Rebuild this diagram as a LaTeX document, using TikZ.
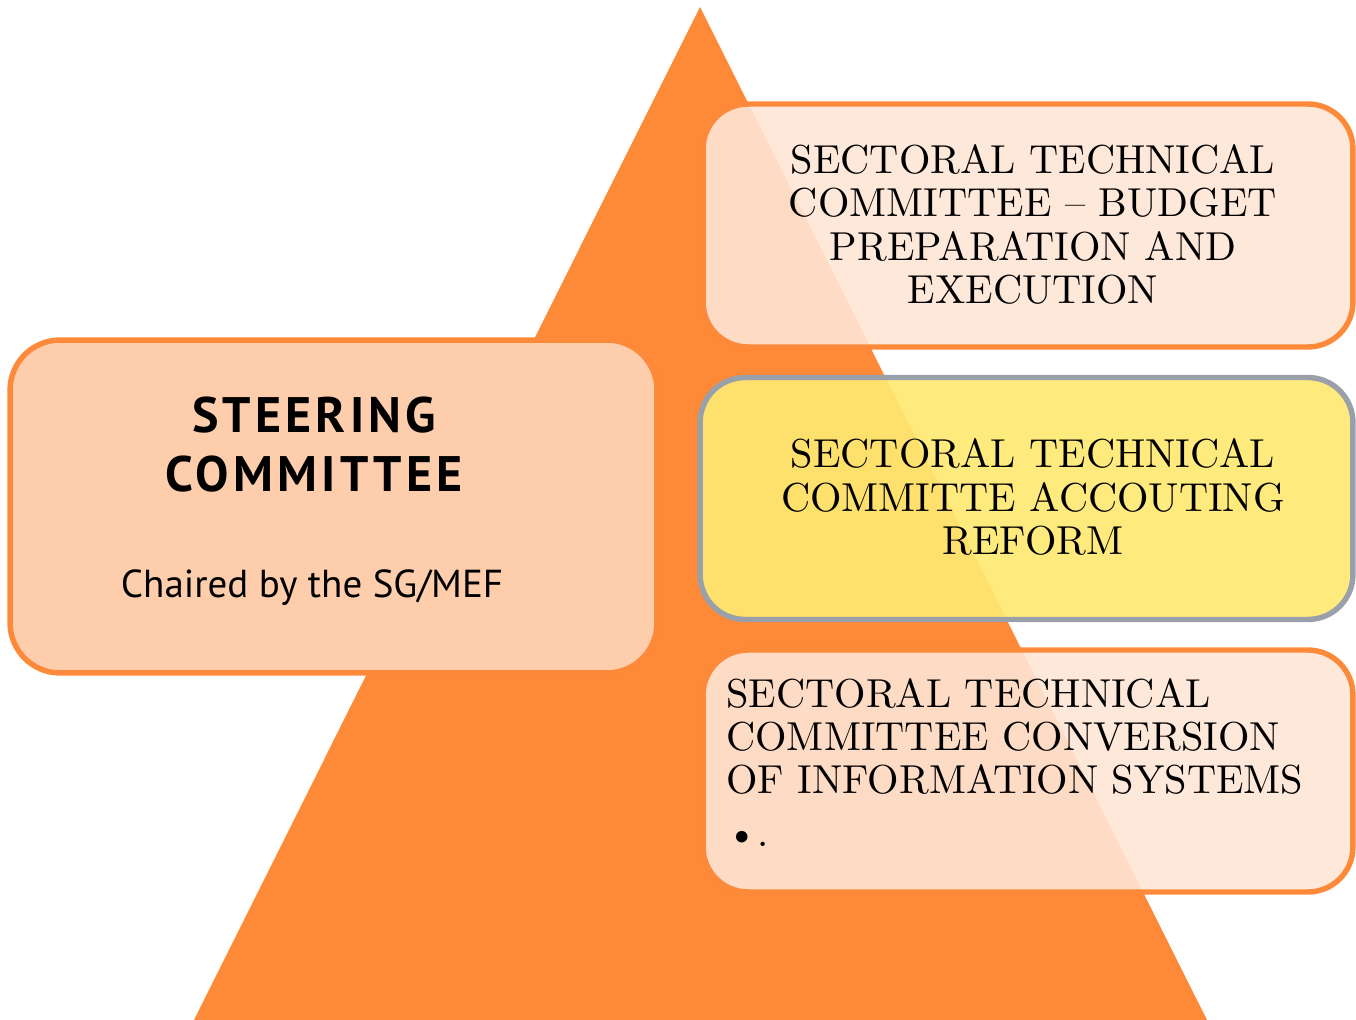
\documentclass[tikz,border=0pt]{standalone}
\usepackage{fontspec}
\newfontfamily\headfont{PT Sans}
\newfontfamily\headspaced{PT Sans}[LetterSpace=8.5]
\newfontfamily\sectserif{lmroman10-regular}[Extension=.otf, Ligatures=TeX]
\usetikzlibrary{positioning}
\definecolor{cTri}{RGB}{254,137,55}
\definecolor{cEdge}{RGB}{253,138,58}
\definecolor{cSteer}{RGB}{254,205,172}
\definecolor{cSect}{RGB}{254,229,213}
\definecolor{cAcc}{RGB}{255,232,114}
\definecolor{cGrey}{RGB}{154,160,170}

\begin{document}
\begin{tikzpicture}[x=0.02cm, y=-0.02cm,
    panel/.style={draw=cEdge, line width=3.1pt, rounded corners=0.9cm,
      minimum width=13cm, minimum height=4.86cm, inner sep=0pt},
    sectfont/.style={font=\sectserif\fontsize{23}{24.5}\selectfont, inner sep=0pt}]
  \useasboundingbox (0,0) rectangle (1356,1020);
  \fill[cTri] (700,7) -- (1207,1020) -- (194,1020) -- cycle;

  \node[panel, fill=cSteer, rounded corners=1cm, minimum width=12.94cm,
    minimum height=6.66cm] (steer) at (333.5,506.5) {};
  \node[font=\headspaced\bfseries\fontsize{28.4}{33.6}\selectfont, align=center,
    inner sep=0pt] (steertitle) at (314,445) {STEERING\\COMMITTEE};
  \node[font=\headfont\fontsize{22.2}{26}\selectfont, anchor=base,
    inner sep=0pt] (chair) at (312,597) {Chaired by the SG/MEF};

  \node[panel, fill=cSect, fill opacity=0.9] (budget) at (1028,225.5) {};
  \node[panel, draw=cGrey, fill=cAcc, fill opacity=0.92,
    minimum width=13.06cm, minimum height=4.84cm] (accounting) at (1026.5,498.5) {};
  \node[panel, fill=cSect, fill opacity=0.9, minimum height=4.84cm] (conversion) at (1028,771) {};

  \node[sectfont, align=center] (budgettxt) at (1033,224.5)
    {SECTORAL TECHNICAL\\COMMITTEE -- BUDGET\\PREPARATION AND\\EXECUTION};
  \node[sectfont, align=center] (accountingtxt) at (1033,497)
    {SECTORAL TECHNICAL\\COMMITTE ACCOUTING\\REFORM};
  \node[sectfont, align=left, anchor=north west] (conversiontxt) at (726,678)
    {SECTORAL TECHNICAL\\COMMITTEE CONVERSION\\OF INFORMATION SYSTEMS\\[5.7pt]\textbullet.};
\end{tikzpicture}
\end{document}
